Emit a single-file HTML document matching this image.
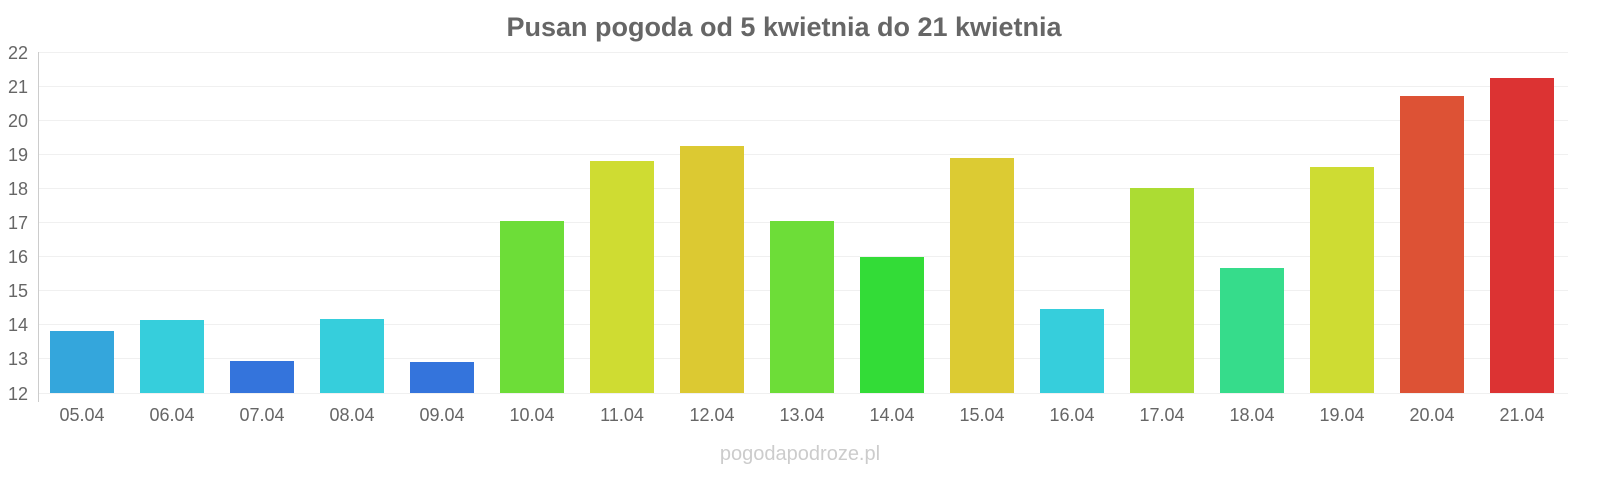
<!DOCTYPE html>
<html><head><meta charset="utf-8"><style>
body{margin:0;background:#fff;width:1600px;height:480px;overflow:hidden}
svg text{font-family:"Liberation Sans",sans-serif}
</style></head><body>
<svg width="1600" height="480" xmlns="http://www.w3.org/2000/svg">
<text x="784" y="36" text-anchor="middle" font-size="27" font-weight="bold" fill="#666">Pusan pogoda od 5 kwietnia do 21 kwietnia</text>
<g stroke="#f0f0f0" stroke-width="1">
<line x1="38" x2="1568" y1="52.5" y2="52.5"/><line x1="38" x2="1568" y1="86.5" y2="86.5"/>
<line x1="38" x2="1568" y1="120.5" y2="120.5"/><line x1="38" x2="1568" y1="154.5" y2="154.5"/>
<line x1="38" x2="1568" y1="188.5" y2="188.5"/><line x1="38" x2="1568" y1="222.5" y2="222.5"/>
<line x1="38" x2="1568" y1="256.5" y2="256.5"/><line x1="38" x2="1568" y1="290.5" y2="290.5"/>
<line x1="38" x2="1568" y1="324.5" y2="324.5"/><line x1="38" x2="1568" y1="358.5" y2="358.5"/>
<line x1="38" x2="1568" y1="393.5" y2="393.5"/>
</g>
<line x1="38.5" x2="38.5" y1="52" y2="402" stroke="#ccc"/>
<g font-size="18" fill="#666" text-anchor="end">
<text x="28" y="59">22</text><text x="28" y="93">21</text><text x="28" y="127">20</text><text x="28" y="161">19</text>
<text x="28" y="195">18</text><text x="28" y="229">17</text><text x="28" y="263">16</text><text x="28" y="297">15</text>
<text x="28" y="331">14</text><text x="28" y="365">13</text><text x="28" y="400">12</text>
</g>
<g>
<rect x="50" y="331" width="64" height="62" fill="#34a6dc"/>
<rect x="140" y="320" width="64" height="73" fill="#36cedc"/>
<rect x="230" y="361" width="64" height="32" fill="#3474dc"/>
<rect x="320" y="319" width="64" height="74" fill="#36cedc"/>
<rect x="410" y="362" width="64" height="31" fill="#3474dc"/>
<rect x="500" y="221" width="64" height="172" fill="#6ddd38"/>
<rect x="590" y="161" width="64" height="232" fill="#cfdc32"/>
<rect x="680" y="146" width="64" height="247" fill="#dcc932"/>
<rect x="770" y="221" width="64" height="172" fill="#6ddd38"/>
<rect x="860" y="257" width="64" height="136" fill="#33dc37"/>
<rect x="950" y="158" width="64" height="235" fill="#dccb33"/>
<rect x="1040" y="309" width="64" height="84" fill="#36cedc"/>
<rect x="1130" y="188" width="64" height="205" fill="#acdc33"/>
<rect x="1220" y="268" width="64" height="125" fill="#36dc8b"/>
<rect x="1310" y="167" width="64" height="226" fill="#cedc33"/>
<rect x="1400" y="96" width="64" height="297" fill="#dd5235"/>
<rect x="1490" y="78" width="64" height="315" fill="#dc3333"/>
</g>
<g font-size="18" fill="#666" text-anchor="middle">
<text x="82" y="421">05.04</text><text x="172" y="421">06.04</text><text x="262" y="421">07.04</text>
<text x="352" y="421">08.04</text><text x="442" y="421">09.04</text><text x="532" y="421">10.04</text>
<text x="622" y="421">11.04</text><text x="712" y="421">12.04</text><text x="802" y="421">13.04</text>
<text x="892" y="421">14.04</text><text x="982" y="421">15.04</text><text x="1072" y="421">16.04</text>
<text x="1162" y="421">17.04</text><text x="1252" y="421">18.04</text><text x="1342" y="421">19.04</text>
<text x="1432" y="421">20.04</text><text x="1522" y="421">21.04</text>
</g>
<text x="800" y="460" text-anchor="middle" font-size="20" fill="#ccc">pogodapodroze.pl</text>
</svg>
</body></html>
